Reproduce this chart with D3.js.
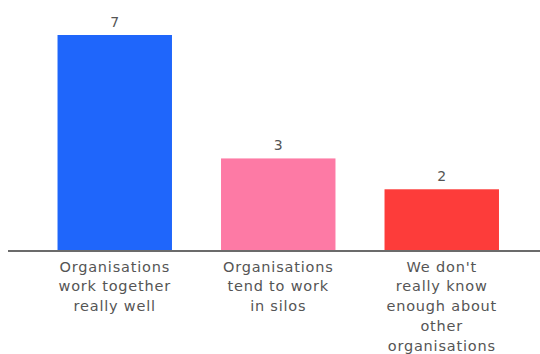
<!DOCTYPE html>
<html>
<head>
<meta charset="utf-8">
<script src="https://cdn.jsdelivr.net/npm/d3@7"></script>
<style>
  html, body { margin: 0; padding: 0; background: #fff; }
  svg { display: block; }
</style>
</head>
<body>
<svg id="chart" width="540" height="354"></svg>
<script>
// Survey answers and counts
const categories = [
  "Organisations work together really well",
  "Organisations tend to work in silos",
  "We don't really know enough about other organisations"
];
const labelLines = [
  ["Organisations", "work together", "really well"],
  ["Organisations", "tend to work", "in silos"],
  ["We don't", "really know", "enough about", "other", "organisations"]
];
const values = [7, 3, 2];
const colors = ["#1f66fb", "#fd7aa5", "#fd3c3a"];

const svg = d3.select("#chart");
const baseY = 251;
const font = "'DejaVu Sans', sans-serif";

const x = d3.scaleBand()
  .domain(categories)
  .range([33, 523.5])
  .paddingInner(0.3)
  .paddingOuter(0.15);

const y = d3.scaleLinear()
  .domain([0, 7])
  .range([baseY, 35]);

// Bars
svg.append("g").selectAll("rect")
  .data(categories)
  .join("rect")
  .attr("x", d => x(d))
  .attr("width", x.bandwidth())
  .attr("y", (d, i) => y(values[i]))
  .attr("height", (d, i) => baseY - y(values[i]))
  .attr("fill", (d, i) => colors[i]);

// Value labels above bars
svg.append("g").selectAll("text")
  .data(categories)
  .join("text")
  .attr("x", d => x(d) + x.bandwidth() / 2)
  .attr("y", (d, i) => y(values[i]) - 8)
  .attr("text-anchor", "middle")
  .attr("font-family", font)
  .attr("font-size", 14)
  .attr("fill", "#555")
  .text((d, i) => values[i]);

// Baseline axis
const axis = svg.append("g")
  .attr("transform", `translate(0,${baseY})`)
  .call(d3.axisBottom(x).tickSize(0).tickFormat(""));
axis.select(".domain").remove();
axis.append("line")
  .attr("x1", 8).attr("x2", 540)
  .attr("y1", 0).attr("y2", 0)
  .attr("stroke", "#6b6b6b")
  .attr("stroke-width", 2);

// Multi-line category labels
axis.selectAll(".tick").each(function(d, i) {
  const t = d3.select(this).append("text")
    .attr("text-anchor", "middle")
    .attr("font-family", font)
    .attr("font-size", 14.5)
    .attr("letter-spacing", 0.8)
    .attr("fill", "#555");
  labelLines[i].forEach((line, j) => {
    t.append("tspan")
      .attr("x", 0)
      .attr("y", 20.5 + j * 19.8)
      .text(line);
  });
});
</script>
</body>
</html>
